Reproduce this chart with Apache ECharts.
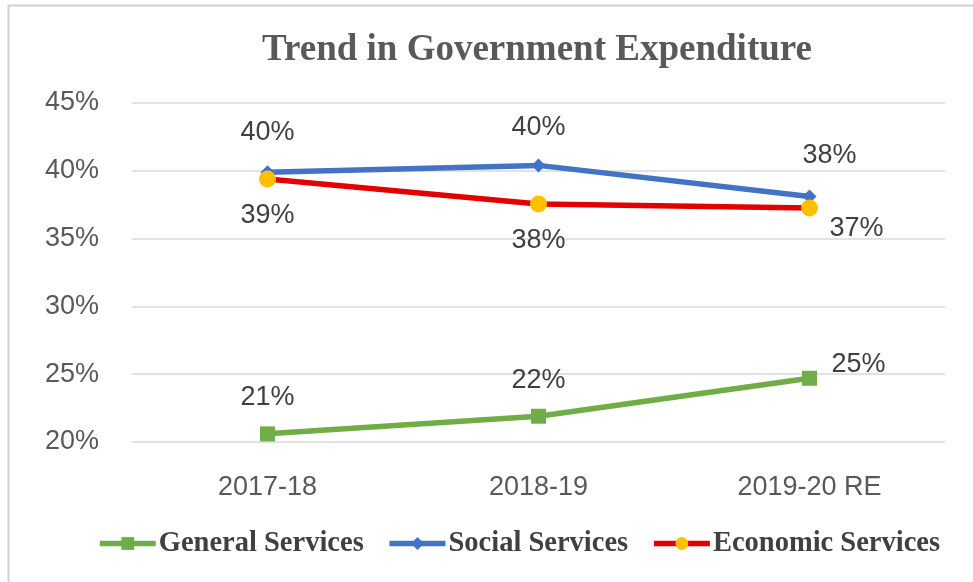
<!DOCTYPE html>
<html><head><meta charset="utf-8">
<script src="https://cdn.jsdelivr.net/npm/echarts@6/dist/echarts.min.js"></script>
<style>html,body{margin:0;padding:0;background:#fff}#c{width:973px;height:582px}</style>
</head><body><div id="c"></div>
<script>
const categories = ['2017-18', '2018-19', '2019-20 RE'];
const generalServices = [20.6, 21.9, 24.7];
const socialServices = [39.9, 40.4, 38.1];
const economicServices = [39.4, 37.55, 37.26];
const yTicks = [20, 25, 30, 35, 40, 45];

const labelFont = {fontFamily: 'Liberation Sans', fontSize: 27, color: '#404040'};
const fmt = p => Math.round(p.value) + '%';

function withLabels(values, cfg) {
  return values.map((v, i) => ({value: v, label: cfg[i]}));
}

const chart = echarts.init(document.getElementById('c'), null, {renderer: 'canvas'});
chart.setOption({
  backgroundColor: '#fff',
  animation: false,
  title: {
    text: 'Trend in Government Expenditure',
    left: 532, top: 27, textAlign: 'center',
    textStyle: {fontFamily: 'Liberation Serif', fontWeight: 'bold', fontSize: 37, color: '#595959'}
  },
  grid: {left: 132, right: 28, top: 103, bottom: 140},
  xAxis: {
    type: 'category', data: categories,
    axisLine: {show: false}, axisTick: {show: false},
    axisLabel: {fontFamily: 'Liberation Sans', fontSize: 27, color: '#595959', margin: 32}
  },
  yAxis: {
    type: 'value', min: yTicks[0], max: yTicks[yTicks.length - 1], interval: 5,
    axisLine: {show: false}, axisTick: {show: false},
    splitLine: {lineStyle: {color: '#D9D9D9', width: 1.5}},
    axisLabel: {fontFamily: 'Liberation Sans', fontSize: 27, color: '#595959', margin: 33, formatter: v => v + '%'}
  },
  legend: {
    bottom: 19, left: 92, itemGap: 23, itemWidth: 56, itemHeight: 16,
    lineStyle: {width: 5.5},
    textStyle: {fontFamily: 'Liberation Serif', fontWeight: 'bold', fontSize: 28.5, color: '#404040', padding: [0, 0, 0, -2]},
    data: ['General Services', 'Social Services', 'Economic Services']
  },
  graphic: [
    {type: 'line', shape: {x1: 8, y1: 5.5, x2: 973, y2: 5.5}, style: {stroke: '#D0D0D0', lineWidth: 2}},
    {type: 'line', shape: {x1: 8.5, y1: 5, x2: 8.5, y2: 582}, style: {stroke: '#D0D0D0', lineWidth: 2}}
  ],
  series: [
    {
      name: 'General Services', type: 'line', data: withLabels(generalServices, [
        {position: 'top', distance: 15}, {position: 'top', distance: 15}, {position: 'top', distance: 15, offset: [49, 22]}
      ]),
      color: '#70AD47', lineStyle: {width: 5.5, color: '#70AD47'},
      symbol: 'rect', symbolSize: 15, itemStyle: {color: '#70AD47'},
      label: {show: true, formatter: fmt, ...labelFont}, z: 2
    },
    {
      name: 'Social Services', type: 'line', data: withLabels(socialServices, [
        {position: 'top', distance: 19}, {position: 'top', distance: 17}, {position: 'top', distance: 21, offset: [20, 0]}
      ]),
      color: '#4472C4', lineStyle: {width: 5.5, color: '#4472C4'},
      symbol: 'diamond', symbolSize: 14, itemStyle: {color: '#4472C4'},
      label: {show: true, formatter: fmt, ...labelFont}, z: 3
    },
    {
      name: 'Economic Services', type: 'line', data: withLabels(economicServices, [
        {position: 'bottom', distance: 15}, {position: 'bottom', distance: 15}, {position: 'bottom', distance: 15, offset: [47, -16]}
      ]),
      color: '#FF0000', lineStyle: {width: 5.5, color: '#E30000'},
      symbol: 'circle', symbolSize: 17, itemStyle: {color: '#FFC000'},
      label: {show: true, formatter: fmt, ...labelFont}, z: 4
    }
  ]
});
</script></body></html>
